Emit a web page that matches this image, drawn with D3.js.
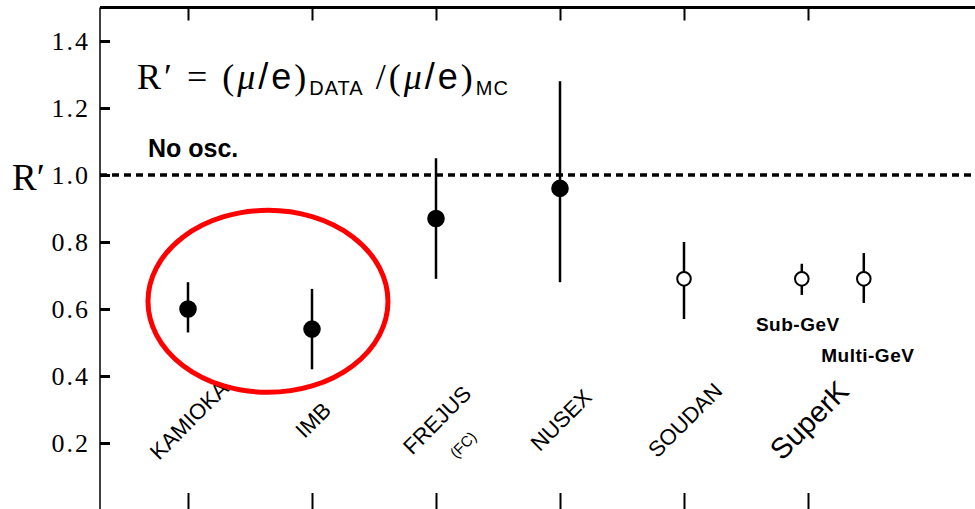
<!DOCTYPE html>
<html>
<head>
<meta charset="utf-8">
<script src="https://cdn.jsdelivr.net/npm/d3@7"></script>
<style>
  html, body { margin: 0; padding: 0; background: #fff; }
  svg { display: block; }
</style>
</head>
<body>
<svg id="chart" width="975" height="509"></svg>
<script>
// Atmospheric neutrino double ratio R' per experiment
const detectors = ["KAMIOKA", "IMB", "FREJUS", "NUSEX", "SOUDAN", "SuperK"];
const detectorNotes = ["", "", "(FC)", "", "", ""];

const samples   = ["KAMIOKA", "IMB", "FREJUS", "NUSEX", "SOUDAN", "Sub-GeV", "Multi-GeV"];
const slot      = [0, 1, 2, 3, 4, 4.95, 5.45];   // position along the detector axis
const ratio     = [0.60, 0.54, 0.87, 0.96, 0.69, 0.69, 0.69];
const errUp     = [0.08, 0.12, 0.18, 0.32, 0.11, 0.045, 0.077];
const errDown   = [0.07, 0.12, 0.18, 0.28, 0.12, 0.048, 0.072];
const filled    = [true, true, true, true, false, false, false];

const yTicks = [0.2, 0.4, 0.6, 0.8, 1.0, 1.2, 1.4];
const noOscValue = 1.0;

const svg = d3.select("#chart");
const W = 975;

const x = d3.scaleLinear().domain([0, 1]).range([188, 312]);
const y = d3.scaleLinear().domain([0, 1.5]).range([510, 7.5]);

const serif = "'Liberation Serif', 'Times New Roman', serif";
const sans = "'Liberation Sans', Arial, sans-serif";

// frame: top border and left axis
svg.append("line")
  .attr("x1", 100).attr("x2", W).attr("y1", y(1.5)).attr("y2", y(1.5))
  .attr("stroke", "#000").attr("stroke-width", 3);

const yAxis = svg.append("g")
  .attr("transform", "translate(100,0)")
  .call(d3.axisLeft(y).tickValues(yTicks).tickFormat(d3.format(".1f"))
    .tickSize(-10).tickPadding(10));
yAxis.select(".domain").remove();
yAxis.selectAll(".tick line").attr("stroke", "#000").attr("stroke-width", 3);
yAxis.selectAll(".tick text")
  .attr("font-family", serif).attr("font-size", 26).attr("fill", "#000")
  .attr("letter-spacing", 2)
  .attr("dy", "0.34em");
svg.append("line")
  .attr("x1", 100).attr("x2", 100).attr("y1", y(1.5)).attr("y2", 509)
  .attr("stroke", "#000").attr("stroke-width", 1.5);

// detector ticks along the top and bottom edges
const detIdx = detectors.map((d, i) => i);
const topAxis = svg.append("g")
  .attr("transform", `translate(0,${y(1.5)})`)
  .call(d3.axisTop(x).tickValues(detIdx).tickSize(-13).tickFormat(""));
topAxis.select(".domain").remove();
topAxis.selectAll(".tick line").attr("stroke", "#000").attr("stroke-width", 2);

const botAxis = svg.append("g")
  .attr("transform", `translate(0,${y(0)})`)
  .call(d3.axisBottom(x).tickValues(detIdx).tickSize(-17).tickFormat(""));
botAxis.select(".domain").remove();
botAxis.selectAll(".tick line").attr("stroke", "#000").attr("stroke-width", 2);

// y label
svg.append("text")
  .attr("x", 12).attr("y", 190)
  .attr("font-family", serif).attr("font-size", 37)
  .text("R\u2032");

// no-oscillation reference
svg.append("line")
  .attr("x1", 100).attr("x2", W).attr("y1", y(noOscValue)).attr("y2", y(noOscValue))
  .attr("stroke", "#000").attr("stroke-width", 3.5)
  .attr("stroke-dasharray", "7,5");
svg.append("text")
  .attr("x", 148).attr("y", 157)
  .attr("font-family", sans).attr("font-size", 25)
  .attr("font-weight", "bold")
  .text("No osc.");

// formula
const f = svg.append("text")
  .attr("x", 137).attr("y", 89)
  .attr("font-family", serif).attr("font-size", 36)
  .attr("letter-spacing", 3);
f.append("tspan").text("R\u2032 = (");
f.append("tspan").attr("font-style", "italic").text("\u03bc");
f.append("tspan").attr("font-family", sans).text("/e");
f.append("tspan").text(")");
f.append("tspan").attr("font-family", sans).attr("font-size", 20).attr("letter-spacing", 1).attr("dy", 6).text("DATA");
f.append("tspan").attr("dy", -6).text(" /(");
f.append("tspan").attr("font-style", "italic").text("\u03bc");
f.append("tspan").attr("font-family", sans).text("/e");
f.append("tspan").text(")");
f.append("tspan").attr("font-family", sans).attr("font-size", 20).attr("letter-spacing", 1).attr("dy", 6).text("MC");

// error bars and points
const pts = samples.map((s, i) => ({
  name: s, xv: slot[i], v: ratio[i], hi: ratio[i] + errUp[i], lo: ratio[i] - errDown[i], filled: filled[i]
}));

const r = 7.8;
svg.append("g").selectAll("line")
  .data(pts).join("line")
  .attr("x1", d => x(d.xv)).attr("x2", d => x(d.xv))
  .attr("y1", d => y(d.hi)).attr("y2", d => y(d.lo))
  .attr("stroke", "#000").attr("stroke-width", 2.5);

svg.append("g").selectAll("circle")
  .data(pts).join("circle")
  .attr("cx", d => x(d.xv)).attr("cy", d => y(d.v))
  .attr("r", d => d.filled ? r : r - 1)
  .attr("fill", d => d.filled ? "#000" : "#fff")
  .attr("stroke", "#000").attr("stroke-width", 2);

// SuperK sample labels
const subLabels = [
  { i: 5, dx: -4, dy: 52 },
  { i: 6, dx: 4, dy: 83 }
];
svg.append("g").selectAll("text")
  .data(subLabels).join("text")
  .attr("x", d => x(slot[d.i]) + d.dx)
  .attr("y", d => y(ratio[d.i]) + d.dy)
  .attr("text-anchor", "middle")
  .attr("font-family", sans).attr("font-size", 19).attr("font-weight", "bold")
  .attr("letter-spacing", 0.5)
  .text(d => samples[d.i]);

// rotated detector names
const labelY = 420;
const lab = svg.append("g").selectAll("g")
  .data(detectors).join("g")
  .attr("transform", (d, i) => `translate(${x(i) + 1},${labelY}) rotate(-45)`);
lab.append("text")
  .attr("text-anchor", "middle")
  .attr("dy", "0.35em")
  .attr("font-family", sans)
  .attr("font-size", d => d === "SuperK" ? 29 : 22)
  .attr("font-weight", d => d === "SuperK" ? 500 : "normal")
  .text(d => d);
lab.filter((d, i) => detectorNotes[i] !== "")
  .append("text")
  .attr("text-anchor", "middle")
  .attr("x", 1).attr("y", 36)
  .attr("dy", "0.35em")
  .attr("font-family", sans).attr("font-size", 15)
  .text(d => detectorNotes[detectors.indexOf(d)]);

// highlight around the early water Cherenkov results
svg.append("ellipse")
  .attr("cx", x(0.645)).attr("cy", y(0.623))
  .attr("rx", 120).attr("ry", 91)
  .attr("fill", "none")
  .attr("stroke", "#ff0000").attr("stroke-width", 5);
</script>
</body>
</html>
